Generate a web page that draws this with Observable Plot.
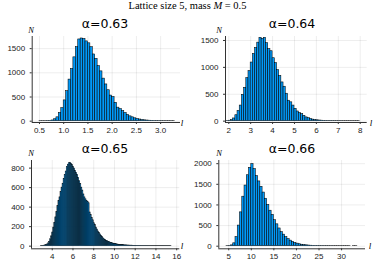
<!DOCTYPE html>
<html><head><meta charset="utf-8">
<script src="https://cdn.jsdelivr.net/npm/d3@7"></script>
<script src="https://cdn.jsdelivr.net/npm/@observablehq/plot@0.6"></script>
<style>
body{margin:0;background:#fff}
#c{position:relative;width:374px;height:266px;overflow:hidden;background:#fff}
#c svg{position:absolute;left:0;top:0}
</style></head><body><div id="c"></div>
<script>
// ---- data (histogram counts) ----
const titles = ["α=0.63", "α=0.64", "α=0.65", "α=0.66"];
const binStart = [0.5, 1.9, 2.9, 4.5];
const binWidth = [0.05, 0.1, 0.1, 0.5];
const counts063 = [1,1,2,4,8,15,40,80,170,270,430,620,860,1080,1320,1530,1690,1710,1700,1650,1610,1530,1380,1290,1140,1030,880,760,640,530,500,380,280,250,210,170,130,100,80,60,45,35,25,18,14,10,8,6,5,4,3,2,2,1,1,1];
const counts064 = [3,8,20,50,110,190,290,490,620,800,930,1090,1250,1360,1460,1550,1530,1550,1450,1340,1300,1170,1080,950,840,720,640,510,380,350,290,230,180,150,130,100,70,55,40,30,22,16,12,9,7,5,4,4,3,3,2,2,2,1,1,1,1,1,1,1,1];
const counts065 = [1,2,3,5,8,12,17,28,45,70,100,140,190,240,295,350,410,465,500,555,600,640,690,730,765,810,835,850,855,845,830,810,795,770,750,730,700,665,635,600,570,530,500,480,465,455,440,345,320,290,265,235,215,190,170,150,135,120,105,92,80,70,62,55,50,44,40,35,32,28,25,22,20,18,16,14,13,12,11,10,9,8,8,7,6,6,5,5,5,4,4,4,3,3,3,3,3,2,2,2,2,2,2,2,1,1,1,1,1,1,1,1,1,1,1,1,1,1,1,1,1,1,1,1,1,1];
const counts066 = [2,6,20,70,220,500,820,1200,1470,1720,1900,1990,1870,1700,1570,1440,1300,1150,1000,860,760,630,530,430,340,280,220,170,135,105,80,62,47,36,28,21,16,12,9,7,6,5,4,3,3,2,2,2,1,1,1,1,1,1,1,0,1,1];
const xTicks = [[0.5,1.0,1.5,2.0,2.5,3.0],[2,3,4,5,6,7,8],[4,6,8,10,12,14,16],[5,10,15,20,25,30]];
const yTicks = [[0,500,1000,1500],[0,500,1000,1500],[0,200,400,600,800],[0,500,1000,1500,2000]];
const xFormats = [".1f","d","d","d"];
const allCounts = [counts063, counts064, counts065, counts066];

// ---- layout ----
const W = 374, H = 266;
const frames = [
  {L:31.7, R:180,   T:36,  B:122, xd:[0.35,3.41], yd:[-27,1751]},
  {L:225,  R:366.7, T:36,  B:122, xd:[1.85,8.32], yd:[-25,1574]},
  {L:31,   R:179.3, T:160, B:248.3, xd:[2.0,16.3], yd:[-27,878]},
  {L:218.3,R:365,   T:160, B:248.3, xd:[2.8,35.3], yd:[-63,2077]}
];
const c = document.getElementById("c");

frames.forEach((f, k) => {
  const data = allCounts[k].map((n, i) => ({
    x1: binStart[k] + i * binWidth[k],
    x2: binStart[k] + (i + 1) * binWidth[k],
    n
  }));
  const p = Plot.plot({
    width: W, height: H,
    marginLeft: f.L, marginRight: W - f.R, marginTop: f.T, marginBottom: H - f.B,
    style: {fontFamily: "'Liberation Sans', Arial, sans-serif", fontSize: "8px", background: "transparent", overflow: "visible", color:"#222"},
    x: {domain: f.xd},
    y: {domain: f.yd},
    marks: [
      Plot.gridX(xTicks[k], {stroke: "#000", strokeOpacity: 0.09, strokeWidth: 0.8}),
      Plot.gridY(yTicks[k], {stroke: "#000", strokeOpacity: 0.09, strokeWidth: 0.8}),
      Plot.rectY(data, {x1: "x1", x2: "x2", y: "n", fill: "#009AFA", stroke: "#000", strokeWidth: 0.55, inset: 0}),
      Plot.axisX(xTicks[k], {tickSize: 2, tickPadding: 2.5, tickFormat: d3.format(xFormats[k]), label: null, stroke:"#333"}),
      Plot.axisY(yTicks[k], {tickSize: 2, tickPadding: 5, tickFormat: d3.format("d"), label: null, stroke:"#333"}),
      Plot.ruleX([f.xd[0]], {stroke: "#333", strokeWidth: 1}),
      Plot.ruleY([f.yd[0]], {stroke: "#333", strokeWidth: 1})
    ]
  });
  c.appendChild(p);
});

// ---- text overlay ----
const svg = d3.select(c).append("svg").attr("width", W).attr("height", H);
const main = svg.append("text").attr("x", 187.5).attr("y", 9).attr("text-anchor", "middle")
  .attr("font-family", "'Liberation Serif', 'DejaVu Serif', serif").attr("font-size", 10.5).attr("fill", "#000");
main.append("tspan").text("Lattice size 5, mass ");
main.append("tspan").attr("font-style", "italic").text("M");
main.append("tspan").text(" = 0.5");

const titlePos = [[105, 28], [292, 28], [105, 153], [292, 153]];
const nPos = [[31, 33], [219, 33], [31, 156], [219, 156]];
const lPos = [[182, 126], [371, 126], [182, 249], [370, 249]];
titles.forEach((t, k) => {
  svg.append("text").attr("x", titlePos[k][0]).attr("y", titlePos[k][1]).attr("text-anchor", "middle")
    .attr("font-family", "'DejaVu Sans', sans-serif").attr("font-size", 12.5).attr("fill", "#000").text(t);
  svg.append("text").attr("x", nPos[k][0]).attr("y", nPos[k][1]).attr("text-anchor", "middle")
    .attr("font-family", "'Liberation Serif', serif").attr("font-style", "italic").attr("font-size", 8.5).attr("fill", "#000").text("N");
  svg.append("text").attr("x", lPos[k][0]).attr("y", lPos[k][1]).attr("text-anchor", "middle")
    .attr("font-family", "'Liberation Serif', serif").attr("font-style", "italic").attr("font-size", 9).attr("fill", "#000").text("l");
});
</script></body></html>
